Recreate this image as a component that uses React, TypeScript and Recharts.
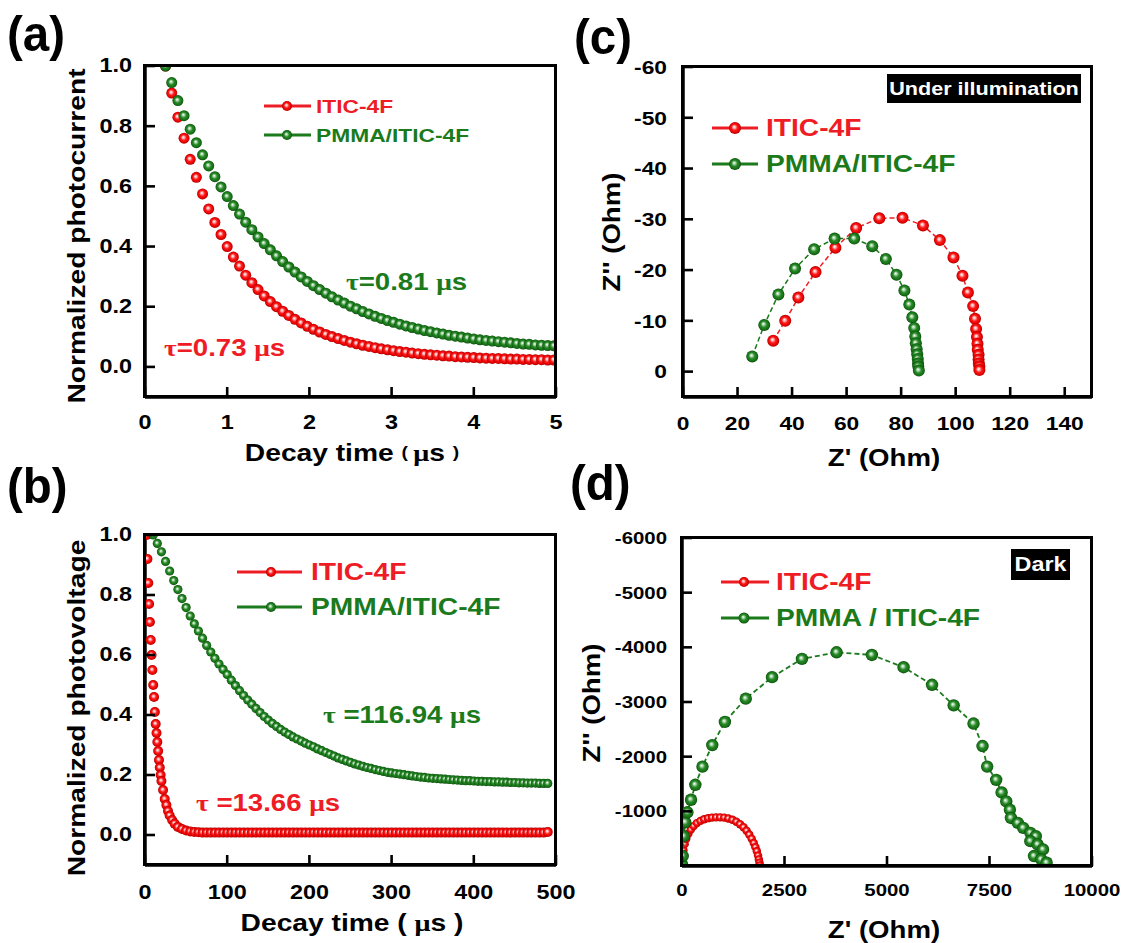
import React from 'react';
import { ScatterChart, Scatter, XAxis, YAxis } from 'recharts';

// ---------------- DATA ----------------
// (a) transient photocurrent
const timeA = [0.25,0.325,0.4,0.475,0.55,0.625,0.7,0.775,0.85,0.925,1.0,1.075,1.15,1.225,1.3,1.375,1.45,1.525,1.6,1.675,1.75,1.825,1.9,1.975,2.05,2.125,2.2,2.275,2.35,2.425,2.5,2.575,2.65,2.725,2.8,2.875,2.95,3.025,3.1,3.175,3.25,3.325,3.4,3.475,3.55,3.625,3.7,3.775,3.85,3.925,4.0,4.075,4.15,4.225,4.3,4.375,4.45,4.525,4.6,4.675,4.75,4.825,4.9,4.975];
const photocurrentITIC = [1.0,0.91,0.83,0.76,0.69,0.63,0.575,0.525,0.48,0.44,0.4,0.365,0.335,0.305,0.28,0.257,0.236,0.217,0.2,0.185,0.171,0.158,0.146,0.135,0.125,0.116,0.108,0.101,0.094,0.088,0.082,0.077,0.072,0.068,0.064,0.06,0.057,0.054,0.051,0.049,0.046,0.044,0.042,0.04,0.039,0.037,0.036,0.034,0.033,0.032,0.031,0.03,0.029,0.028,0.028,0.027,0.026,0.026,0.025,0.025,0.024,0.024,0.023,0.023];
const photocurrentPMMA = [1.0,0.945,0.885,0.835,0.79,0.745,0.705,0.668,0.632,0.598,0.566,0.536,0.508,0.481,0.456,0.432,0.41,0.389,0.369,0.35,0.332,0.315,0.299,0.284,0.27,0.257,0.245,0.233,0.222,0.212,0.202,0.193,0.184,0.176,0.168,0.161,0.154,0.148,0.142,0.136,0.131,0.126,0.121,0.117,0.113,0.109,0.105,0.102,0.099,0.096,0.093,0.09,0.088,0.086,0.084,0.082,0.08,0.078,0.076,0.075,0.073,0.072,0.071,0.07];

// (b) transient photovoltage
const timeB_ITIC = [2,3,4,5,6,7,8,9,10,11,12,13,14,15,16,17,18,19,20,22,24,26,28,30,33,36,40,45,50,55,60,65,70,75,80,85,90,95,100,105,110,115,120,125,130,135,140,145,150,155,160,165,170,175,180,185,190,195,200,205,210,215,220,225,230,235,240,245,250,255,260,265,270,275,280,285,290,295,300,305,310,315,320,325,330,335,340,345,350,355,360,365,370,375,380,385,390,395,400,405,410,415,420,425,430,435,440,445,450,455,460,465,470,475,480,485,490];
const photovoltageITIC = [1.0,0.92,0.84,0.77,0.71,0.65,0.6,0.55,0.5,0.46,0.41,0.37,0.34,0.31,0.28,0.25,0.225,0.2,0.18,0.15,0.12,0.1,0.08,0.065,0.05,0.038,0.027,0.02,0.015,0.012,0.01,0.009,0.008,0.008,0.008,0.008,0.008,0.008,0.008,0.008,0.008,0.008,0.008,0.008,0.008,0.008,0.008,0.008,0.008,0.008,0.008,0.008,0.008,0.008,0.008,0.008,0.008,0.008,0.008,0.008,0.008,0.008,0.008,0.008,0.008,0.008,0.008,0.008,0.008,0.008,0.008,0.008,0.008,0.008,0.008,0.008,0.008,0.008,0.008,0.008,0.008,0.008,0.008,0.008,0.008,0.008,0.008,0.008,0.008,0.008,0.008,0.008,0.008,0.008,0.008,0.008,0.008,0.008,0.008,0.008,0.008,0.008,0.008,0.008,0.008,0.008,0.008,0.008,0.008,0.008,0.008,0.008,0.008,0.008,0.008,0.008,0.01];
const timeB_PMMA = [10,15,20,25,30,35,40,45,50,55,60,65,70,75,80,85,90,95,100,105,110,115,120,125,130,135,140,145,150,155,160,165,170,175,180,185,190,195,200,205,210,215,220,225,230,235,240,245,250,255,260,265,270,275,280,285,290,295,300,305,310,315,320,325,330,335,340,345,350,355,360,365,370,375,380,385,390,395,400,405,410,415,420,425,430,435,440,445,450,455,460,465,470,475,480,485,490];
const photovoltagePMMA = [1.0,0.972,0.944,0.912,0.88,0.848,0.818,0.788,0.758,0.73,0.704,0.68,0.656,0.632,0.61,0.589,0.57,0.552,0.535,0.516,0.498,0.481,0.465,0.45,0.436,0.422,0.408,0.395,0.383,0.372,0.362,0.352,0.343,0.335,0.327,0.32,0.313,0.306,0.3,0.294,0.287,0.281,0.275,0.269,0.263,0.257,0.252,0.247,0.242,0.237,0.233,0.229,0.225,0.222,0.218,0.215,0.212,0.209,0.207,0.205,0.203,0.201,0.199,0.197,0.195,0.193,0.192,0.19,0.189,0.188,0.187,0.186,0.185,0.184,0.183,0.182,0.181,0.181,0.18,0.179,0.179,0.178,0.178,0.177,0.177,0.176,0.176,0.175,0.175,0.174,0.174,0.173,0.173,0.173,0.172,0.172,0.172];

// (c) EIS under illumination
const zReIllumITIC = [33.1,37.5,42.3,48.6,55.9,63.5,72.0,80.5,88.0,94.2,99.2,102.5,104.5,106.4,107.1,107.5,107.8,108.0,108.1,108.4,108.4,108.5,108.7,108.7];
const zImIllumITIC = [-6.1,-10.0,-14.6,-19.6,-24.4,-28.3,-30.2,-30.3,-28.8,-25.9,-22.5,-18.9,-15.6,-12.9,-10.4,-8.4,-6.8,-5.5,-4.3,-3.3,-2.4,-1.6,-1.0,-0.3];
const zReIllumPMMA = [25.4,29.8,35.0,41.1,48.1,55.6,62.8,69.4,74.4,78.3,81.2,83.0,84.1,84.8,85.2,85.4,85.7,85.9,86.1,86.2,86.3,86.5];
const zImIllumPMMA = [-3.0,-9.2,-15.2,-20.3,-24.1,-26.2,-26.2,-24.7,-22.2,-19.1,-16.0,-13.2,-10.7,-8.6,-6.9,-5.6,-4.4,-3.4,-2.5,-1.6,-1.0,-0.2];

// (d) EIS in dark
const zReDarkITIC = [5,15,35,65,105,155,215,285,365,450,540,635,730,830,930,1030,1130,1230,1325,1415,1500,1575,1640,1700,1750,1790,1825,1855,1875,1890,1900];
const zImDarkITIC = [-60,-170,-290,-400,-500,-590,-665,-730,-785,-825,-855,-875,-885,-890,-890,-885,-870,-845,-810,-765,-710,-645,-575,-500,-420,-345,-270,-190,-120,-60,-10];
const zReDarkPMMA = [0,18,44,79,132,220,325,500,738,1046,1555,2197,2926,3770,4631,5404,6099,6626,7110,7330,7443,7663,7795,7909,7997,8023,8190,8322,8497,8629,8497,8673,8805,8585,8761,8893];
const zImDarkPMMA = [-30,-182,-545,-800,-982,-1212,-1485,-1818,-2212,-2636,-3061,-3455,-3788,-3909,-3861,-3636,-3315,-2939,-2606,-2194,-1818,-1576,-1345,-1182,-1030,-879,-788,-697,-606,-545,-455,-394,-303,-182,-121,-61];

// tick labels
const ticksNorm = [0, 0.2, 0.4, 0.6, 0.8, 1.0];
const ticksTimeA = [0, 1, 2, 3, 4, 5];
const ticksTimeB = [0, 100, 200, 300, 400, 500];
const ticksZReC = [0, 20, 40, 60, 80, 100, 120, 140];
const ticksZImC = [0, -10, -20, -30, -40, -50, -60];
const ticksZReD = [0, 2500, 5000, 7500, 10000];
const ticksZImD = [-1000, -2000, -3000, -4000, -5000, -6000];

// ---------------- STYLE ----------------
const W = 1123;
const H = 943;
const FONT = '"Liberation Sans", Arial, sans-serif';
const SERIF = '"Liberation Serif", "Times New Roman", serif';
const RED = '#ee1c24';
const GREEN = '#1b7a1b';
const SX = 1.2;
const TICK_LEN = 10;
const BORDER = 3.5;

const FRAME_A = [145, 66, 556, 397];
const FRAME_B = [145, 535, 556, 865];
const FRAME_C = [683, 67, 1092, 397];
const FRAME_D = [682, 538, 1092, 866];

const zip = (xs: number[], ys: number[]) => xs.map((x, i) => ({ x, y: ys[i] }));

function SText({ x, y, size, fill = '#000', anchor = 'start', rotate = 0, sx = SX, children }: any) {
  return (
    <text
      transform={`translate(${x} ${y}) rotate(${rotate}) scale(${sx} 1)`}
      x={0}
      y={0}
      fontSize={size}
      fontFamily={FONT}
      fontWeight="bold"
      fill={fill}
      textAnchor={anchor}
      dominantBaseline="central"
    >
      {children}
    </text>
  );
}

const ball = (r: number, grad: string) => (p: any) =>
  p.cx == null ? <g /> : <circle cx={p.cx} cy={p.cy} r={r} fill={`url(#${grad})`} />;

// plot-area border as an HTML box around the plot area
function BoxFrame({ box }: any) {
  const [L, T, R, B] = box;
  const h = BORDER / 2;
  return (
    <div
      style={{
        position: 'absolute',
        left: L - h,
        top: T - h,
        width: R - L - BORDER,
        height: B - T - BORDER,
        border: `${BORDER}px solid #000`,
        pointerEvents: 'none',
      }}
    />
  );
}

function Panel({ frame, xDomain, yDomain, xTicks, yTicks, reversedY, xFmt, yFmt, tickFont, yGap, xOff, series }: any) {
  const [L, T, R, B] = frame;
  const YW = 60;
  const XH = 40;
  const axisLine = { stroke: '#000', strokeWidth: BORDER };
  const xTick = (p: any) => (
    <g>
      <path d={`M${p.x - 1.3},${B}h2.6v${-TICK_LEN}h-2.6z`} fill="#000" stroke="none" />
      <SText x={p.x} y={p.y} size={tickFont} anchor="middle">{xFmt(p.payload.value)}</SText>
    </g>
  );
  const yTick = (p: any) => (
    <g>
      <path d={`M${L},${p.y - 1.3}h${TICK_LEN}v2.6h${-TICK_LEN}z`} fill="#000" stroke="none" />
      <SText x={p.x} y={p.y} size={tickFont} anchor="end">{yFmt(p.payload.value)}</SText>
    </g>
  );
  return (
    <div style={{ position: 'absolute', left: 0, top: 0 }}>
      <ScatterChart width={W} height={H} margin={{ top: T, left: L - YW, right: W - R, bottom: H - B - XH }}>
        <XAxis
          type="number"
          dataKey="x"
          domain={xDomain}
          ticks={xTicks}
          interval={0}
          allowDataOverflow
          axisLine={axisLine}
          tickLine={false}
          tickSize={0}
          tickMargin={xOff}
          height={XH}
          tick={xTick}
        />
        <YAxis
          type="number"
          dataKey="y"
          domain={yDomain}
          ticks={yTicks}
          interval={0}
          reversed={reversedY}
          allowDataOverflow
          axisLine={axisLine}
          tickLine={false}
          tickSize={0}
          tickMargin={yGap}
          width={YW}
          tick={yTick}
        />
        {series.map((s: any, i: number) => (
          <Scatter
            key={i}
            data={s.data}
            isAnimationActive={false}
            shape={ball(s.r, s.grad)}
            line={s.line ? s.line : false}
            lineType="joint"
          />
        ))}
      </ScatterChart>
    </div>
  );
}

function LegendItem({ x1, x2, cx, y, r, color, grad, textX, size, label }: any) {
  return (
    <g>
      <line x1={x1} x2={x2} y1={y} y2={y} stroke={color} strokeWidth={3} />
      <circle cx={cx} cy={y} r={r} fill={`url(#${grad})`} />
      <SText x={textX} y={y} size={size} fill={color}>{label}</SText>
    </g>
  );
}

function Tau({ x, y, size, color, value }: any) {
  return (
    <text transform={`translate(${x} ${y}) scale(${SX} 1)`} fontSize={size} fontFamily={FONT} fontWeight="bold" fill={color} dominantBaseline="central">
      <tspan fontFamily={SERIF}>τ</tspan>
      <tspan>{value}</tspan>
      <tspan fontFamily={SERIF}>μ</tspan>
      <tspan>s</tspan>
    </text>
  );
}

const f1 = (v: number) => v.toFixed(1);
const f0 = (v: number) => String(v);

export default function App() {
  return (
    <div style={{ position: 'absolute', left: 0, top: 0, width: W, height: H, background: '#fff' }}>
      <svg width={0} height={0} style={{ position: 'absolute' }}>
        <defs>
          <radialGradient id="gR" cx="0.5" cy="0.5" r="0.5" fx="0.42" fy="0.4">
            <stop offset="0" stopColor="#ffffff" />
            <stop offset="0.22" stopColor="#ffb0b0" />
            <stop offset="0.5" stopColor="#ff1a1a" />
            <stop offset="0.85" stopColor="#e00000" />
            <stop offset="1" stopColor="#a80000" />
          </radialGradient>
          <radialGradient id="gG" cx="0.5" cy="0.5" r="0.5" fx="0.42" fy="0.4">
            <stop offset="0" stopColor="#ffffff" />
            <stop offset="0.22" stopColor="#a8d4a8" />
            <stop offset="0.5" stopColor="#2a8a2a" />
            <stop offset="0.85" stopColor="#146e14" />
            <stop offset="1" stopColor="#0a4a0a" />
          </radialGradient>
        </defs>
      </svg>

      <Panel
        frame={FRAME_A}
        xDomain={[0, 5]}
        yDomain={[-0.1, 1.0]}
        xTicks={ticksTimeA}
        yTicks={ticksNorm}
        reversedY={false}
        xFmt={f0}
        yFmt={f1}
        tickFont={19.5}
        yGap={13}
        xOff={26}
        series={[
          { data: zip(timeA, photocurrentITIC), r: 5.5, grad: 'gR' },
          { data: zip(timeA, photocurrentPMMA), r: 5.5, grad: 'gG' },
        ]}
      />
      <Panel
        frame={FRAME_B}
        xDomain={[0, 500]}
        yDomain={[-0.1, 1.0]}
        xTicks={ticksTimeB}
        yTicks={ticksNorm}
        reversedY={false}
        xFmt={f0}
        yFmt={f1}
        tickFont={19.5}
        yGap={13}
        xOff={28}
        series={[
          { data: zip(timeB_ITIC, photovoltageITIC), r: 5, grad: 'gR' },
          { data: zip(timeB_PMMA, photovoltagePMMA), r: 4.6, grad: 'gG' },
        ]}
      />
      <Panel
        frame={FRAME_C}
        xDomain={[0, 150]}
        yDomain={[-60, 5]}
        xTicks={ticksZReC}
        yTicks={ticksZImC}
        reversedY={true}
        xFmt={f0}
        yFmt={f0}
        tickFont={19}
        yGap={16}
        xOff={26}
        series={[
          { data: zip(zReIllumITIC, zImIllumITIC), r: 6, grad: 'gR', line: { stroke: RED, strokeWidth: 1.5, strokeDasharray: '5 3' } },
          { data: zip(zReIllumPMMA, zImIllumPMMA), r: 6, grad: 'gG', line: { stroke: GREEN, strokeWidth: 1.5, strokeDasharray: '5 3' } },
        ]}
      />
      <Panel
        frame={FRAME_D}
        xDomain={[0, 10000]}
        yDomain={[-6000, 0]}
        xTicks={ticksZReD}
        yTicks={ticksZImD}
        reversedY={true}
        xFmt={f0}
        yFmt={f0}
        tickFont={17}
        yGap={15}
        xOff={24}
        series={[
          { data: zip(zReDarkITIC, zImDarkITIC), r: 4.2, grad: 'gR', line: { stroke: RED, strokeWidth: 1.5, strokeDasharray: '5 3' } },
          { data: zip(zReDarkPMMA, zImDarkPMMA), r: 6.2, grad: 'gG', line: { stroke: GREEN, strokeWidth: 1.8, strokeDasharray: '5 3' } },
        ]}
      />

      <BoxFrame box={FRAME_A} />
      <BoxFrame box={FRAME_B} />
      <BoxFrame box={FRAME_C} />
      <BoxFrame box={FRAME_D} />

      <svg width={W} height={H} style={{ position: 'absolute', left: 0, top: 0, pointerEvents: 'none' }}>
        <SText x={7} y={34} size={50} sx={0.95}>(a)</SText>
        <SText x={7} y={486} size={50} sx={0.95}>(b)</SText>
        <SText x={574} y={37} size={50} sx={0.95}>(c)</SText>
        <SText x={570} y={483} size={50} sx={0.95}>(d)</SText>

        <SText x={77} y={236} size={23.5} rotate={-90} anchor="middle">Normalized photocurrent</SText>
        <text transform={`translate(352 453) scale(${SX} 1)`} fontSize={23.5} fontFamily={FONT} fontWeight="bold" textAnchor="middle" dominantBaseline="central">
          <tspan>Decay time </tspan>
          <tspan fontSize={16}>( </tspan>
          <tspan fontFamily={SERIF}>μ</tspan>
          <tspan>s </tspan>
          <tspan fontSize={16}>)</tspan>
        </text>
        <LegendItem x1={264} x2={311} cx={287} y={106} r={5} color={RED} grad="gR" textX={316} size={19} label="ITIC-4F" />
        <LegendItem x1={264} x2={311} cx={287} y={135} r={5} color={GREEN} grad="gG" textX={316} size={19} label="PMMA/ITIC-4F" />
        <Tau x={346} y={282} size={23} color={GREEN} value="=0.81 " />
        <Tau x={164} y={348} size={23} color={RED} value="=0.73 " />

        <SText x={77} y={708} size={23.5} rotate={-90} anchor="middle">Normalized photovoltage</SText>
        <text transform={`translate(352 923) scale(${SX} 1)`} fontSize={23.5} fontFamily={FONT} fontWeight="bold" textAnchor="middle" dominantBaseline="central">
          <tspan>Decay time ( </tspan>
          <tspan fontFamily={SERIF}>μ</tspan>
          <tspan>s )</tspan>
        </text>
        <LegendItem x1={237} x2={302} cx={271} y={572} r={5} color={RED} grad="gR" textX={311} size={23.5} label="ITIC-4F" />
        <LegendItem x1={237} x2={302} cx={271} y={607} r={5} color={GREEN} grad="gG" textX={311} size={23.5} label="PMMA/ITIC-4F" />
        <Tau x={323} y={715} size={23} color={GREEN} value=" =116.94 " />
        <Tau x={196} y={803} size={23} color={RED} value=" =13.66 " />

        <SText x={612} y={232} size={23} rotate={-90} anchor="middle">Z'' (Ohm)</SText>
        <SText x={884} y={458} size={23} anchor="middle">Z' (Ohm)</SText>
        <rect x={887} y={74} width={194} height={29} fill="#000" />
        <SText x={984} y={88.5} size={18} fill="#fff" anchor="middle">Under illumination</SText>
        <LegendItem x1={712} x2={758} cx={735} y={128} r={6} color={RED} grad="gR" textX={766} size={23.5} label="ITIC-4F" />
        <LegendItem x1={712} x2={758} cx={735} y={164} r={6} color={GREEN} grad="gG" textX={766} size={23.5} label="PMMA/ITIC-4F" />

        <SText x={592} y={703} size={23} rotate={-90} anchor="middle">Z'' (Ohm)</SText>
        <SText x={884} y={930} size={23} anchor="middle">Z' (Ohm)</SText>
        <rect x={1011} y={549} width={59} height={31} fill="#000" />
        <SText x={1040.5} y={564.5} size={19.5} fill="#fff" anchor="middle">Dark</SText>
        <LegendItem x1={721} x2={769} cx={744} y={582} r={5} color={RED} grad="gR" textX={776} size={23.5} label="ITIC-4F" />
        <LegendItem x1={721} x2={769} cx={744} y={618} r={5.5} color={GREEN} grad="gG" textX={776} size={23.5} label="PMMA / ITIC-4F" />
      </svg>
    </div>
  );
}
